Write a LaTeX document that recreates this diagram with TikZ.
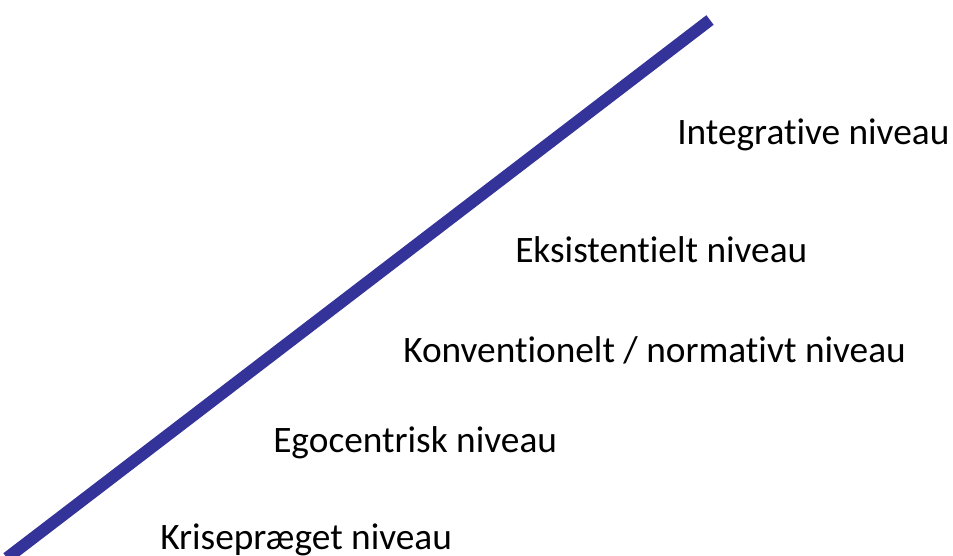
\documentclass[tikz,border=0pt]{standalone}
\usepackage{fontspec}
\setmainfont[Ligatures=NoCommon]{Carlito}
\usepackage{xcolor}
\usepackage{tikz}
\definecolor{stairblue}{RGB}{51,51,153}

\begin{document}
\begin{tikzpicture}[x=0.75pt,y=-0.75pt]
    \useasboundingbox (0,0) rectangle (953,556);

    % Development line
    \coordinate (low) at (7,558);
    \coordinate (high) at (710,20);
    \draw[line width=9pt,stairblue] (low) -- (high);

    % Levels
    \tikzset{level/.style={anchor=west,inner sep=0pt,font=\fontsize{28}{32}\selectfont}}
    \node[level] (integ) at (677,135) {Integrative niveau};
    \node[level] (eksist) at (515,250) {Eksistentielt niveau};
    \node[level] (konv) at (403,350) {Konventionelt / normativt niveau};
    \node[level] (ego) at (273,443) {Egocentrisk niveau};
    \node[level] (krise) at (160,540) {Krisepræget niveau};
\end{tikzpicture}
\end{document}
